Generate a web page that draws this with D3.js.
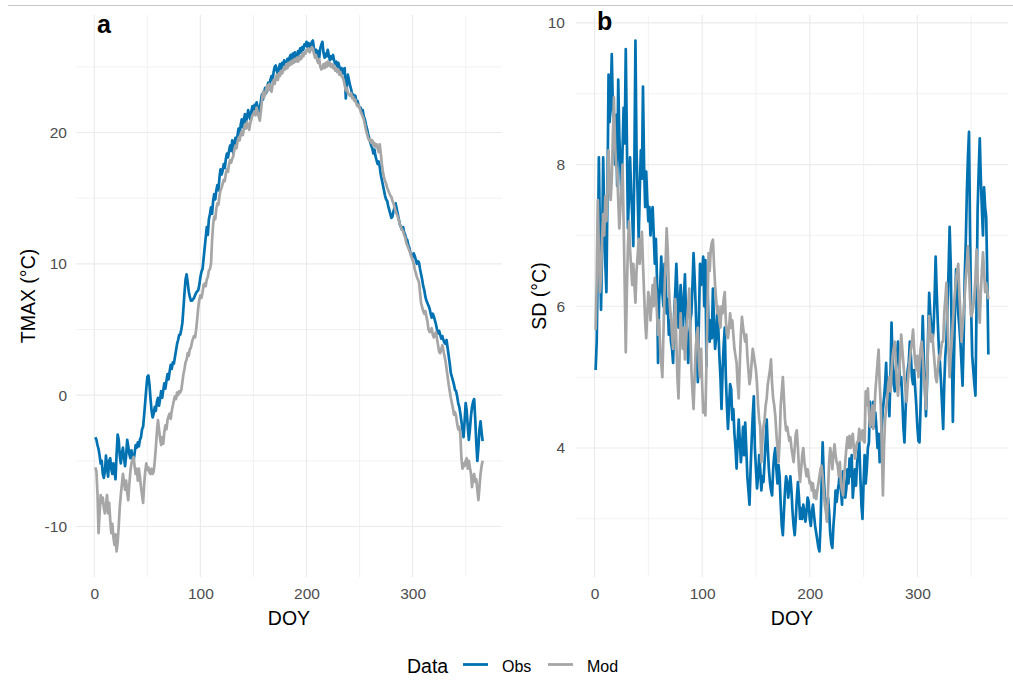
<!DOCTYPE html>
<html><head><meta charset="utf-8">
<script src="https://cdn.jsdelivr.net/npm/d3@7"></script>
<style>body{margin:0;background:#fff;} svg{display:block;} text{font-family:"Liberation Sans",Arial,sans-serif;}</style>
</head><body><svg id="chart" width="1013" height="689"></svg>
<script>
// ---- Data (daily values, DOY 1..366) ----
const obsTmax = [
-3.2,-3.4,-3.8,-4.1,-4.6,-5.2,-5.0,-6.0,-6.3,-5.8,
-4.6,-5.5,-6.2,-5.0,-4.8,-5.6,-6.0,-5.2,-5.8,-6.4,
-4.5,-3.0,-3.4,-4.6,-5.2,-4.4,-4.0,-4.8,-5.4,-4.6,
-3.4,-3.9,-4.5,-4.8,-4.2,-4.9,-5.0,-4.4,-3.8,-4.0,
-3.6,-3.9,-3.4,-3.2,-2.6,-2.4,-1.5,-0.5,0.5,1.4,
1.5,0.8,-0.3,-1.2,-1.7,-1.4,-0.9,-1.2,-0.5,-0.2,
-0.8,-0.3,0.3,-0.2,0.4,0.9,0.5,1.1,1.6,1.2,
1.8,2.3,2.0,2.5,2.4,2.9,3.4,3.9,4.2,4.6,
4.6,5.0,5.5,6.6,7.8,8.8,9.2,8.6,7.9,7.5,
7.2,7.2,7.3,7.4,7.6,7.8,7.9,8.0,8.4,9.0,
9.4,9.6,10.4,11.2,12.0,12.8,12.2,13.4,13.8,14.3,
13.8,14.8,15.3,14.9,15.6,16.0,15.6,16.6,17.2,16.8,
17.1,17.6,17.3,18.0,18.4,18.1,18.6,19.0,18.6,19.4,
18.4,19.0,19.6,19.2,19.8,20.3,19.9,20.6,21.0,20.4,
21.0,21.4,20.8,21.2,21.7,21.3,21.0,21.6,22.0,21.5,
22.1,21.8,22.3,21.9,21.6,21.8,22.4,22.9,22.5,23.0,
23.4,23.0,23.5,23.8,23.3,24.0,24.3,24.0,24.6,25.0,
25.1,24.7,24.4,24.9,25.2,24.8,25.3,25.0,25.5,25.2,
25.0,25.6,25.3,25.7,25.9,25.4,26.0,25.7,26.1,25.8,
25.6,26.2,26.0,26.4,26.1,26.5,26.3,26.7,26.6,26.9,
26.5,26.8,26.2,26.6,26.9,27.0,26.4,25.9,26.3,25.8,
26.2,25.7,26.4,26.7,26.9,26.1,25.7,26.0,25.8,26.3,
25.9,25.5,25.8,25.6,25.9,25.5,25.2,25.4,25.0,25.3,
25.0,24.6,24.9,24.5,24.8,24.9,22.6,23.5,24.4,24.0,
23.6,23.3,22.9,22.9,22.6,22.8,22.4,22.4,22.1,21.9,
21.9,21.6,21.7,21.2,21.0,20.6,20.3,19.9,19.6,19.3,
19.0,18.8,18.4,18.7,18.2,17.9,17.6,17.8,17.4,16.8,
16.4,16.0,15.6,15.2,14.9,14.8,14.4,14.1,13.8,13.5,
13.6,14.0,14.3,14.6,14.2,13.8,13.4,13.0,12.8,12.6,
12.8,12.4,12.2,11.9,11.8,11.4,11.2,10.8,10.6,10.5,
10.8,10.6,10.3,10.0,10.2,10.1,9.6,9.2,8.8,8.3,
8.0,7.5,7.2,7.0,6.8,6.6,6.2,5.9,6.2,6.0,
5.7,5.4,5.0,4.7,4.9,4.6,4.3,4.5,4.2,4.0,
3.9,4.2,3.6,3.0,2.4,1.7,1.4,1.1,0.8,0.4,
0.3,-0.1,-0.6,-0.9,-1.4,-2.0,-2.6,-3.2,-2.0,-0.6,
-1.2,-2.4,-3.4,-2.6,-1.6,-0.9,-0.5,-0.3,-1.8,-3.6,
-5.0,-4.0,-2.6,-2.0,-2.8,-3.5];

const modTmax = [
-5.5,-5.8,-7.5,-10.5,-9.0,-7.6,-8.2,-7.8,-8.6,-9.0,
-8.4,-7.6,-9.0,-8.2,-9.5,-10.5,-9.8,-10.8,-11.4,-10.6,
-11.9,-11.2,-10.0,-8.5,-7.6,-6.8,-6.0,-6.6,-7.2,-6.5,
-7.4,-8.0,-6.8,-5.8,-5.2,-4.9,-4.7,-5.4,-6.0,-5.6,
-6.5,-5.6,-6.2,-7.0,-7.6,-8.2,-6.8,-5.8,-5.2,-5.7,
-5.5,-5.9,-6.0,-5.6,-6.0,-5.8,-5.0,-4.0,-2.8,-1.9,
-2.6,-3.3,-3.8,-3.2,-3.7,-2.8,-2.3,-2.6,-1.9,-1.6,
-1.4,-1.8,-1.2,-0.8,-0.4,-0.1,-0.3,0.2,0.0,0.3,
0.2,0.4,1.0,1.6,2.0,2.5,2.7,3.2,3.0,3.5,
3.6,4.0,4.3,4.5,4.4,5.0,5.8,6.7,7.3,7.6,
7.4,7.8,8.4,8.5,8.3,8.8,9.0,9.5,9.6,10.0,
11.8,13.0,13.6,13.4,14.2,14.6,14.5,15.2,15.6,15.8,
16.1,16.4,16.3,16.9,17.2,17.0,17.6,17.9,17.7,18.0,
18.2,18.7,19.0,18.8,19.3,19.6,19.4,19.9,20.1,19.8,
20.3,20.6,20.3,20.8,20.5,20.2,20.7,21.0,21.3,21.4,
21.6,21.3,21.9,21.5,21.2,20.9,21.6,22.4,23.1,22.7,
22.9,23.3,23.6,23.2,23.7,23.4,23.1,23.6,24.0,23.7,
24.1,24.4,24.0,24.5,24.3,24.7,24.5,24.7,25.0,24.8,
25.2,24.9,25.3,25.1,25.4,25.2,25.5,25.3,25.6,25.4,
25.7,25.4,25.5,25.8,25.6,26.0,25.8,26.1,26.0,26.3,
26.2,26.4,26.1,26.3,26.5,26.4,26.0,25.7,25.9,25.5,
25.3,25.6,25.0,24.8,24.9,25.2,24.9,25.3,25.0,25.4,
25.1,25.3,25.0,25.2,24.9,25.1,24.7,24.9,24.6,24.8,
24.4,24.6,24.3,24.2,24.0,23.6,23.2,23.4,23.0,22.9,
22.8,23.0,22.6,22.7,22.4,22.5,22.2,22.0,22.1,21.9,
21.6,21.4,21.2,21.0,20.6,20.2,19.9,19.6,19.4,19.5,
19.2,19.4,19.0,19.2,18.9,19.1,18.8,18.5,19.1,18.4,
17.6,17.0,16.6,16.3,16.1,15.8,15.6,15.4,15.2,15.1,
14.8,14.6,14.3,14.0,13.8,13.6,13.3,13.0,12.8,12.6,
12.5,12.2,12.0,11.6,11.4,11.2,11.0,10.8,10.5,10.3,
10.0,9.6,9.3,9.0,8.8,8.6,7.8,7.0,6.7,6.4,
6.2,6.4,6.0,5.6,5.0,4.8,4.9,5.1,4.6,4.4,
4.6,4.8,4.3,3.8,3.3,3.2,3.5,3.8,3.4,3.0,
2.6,2.0,1.4,0.8,0.3,-0.2,-0.6,-1.0,-1.5,-1.3,
-1.6,-2.2,-2.6,-2.4,-3.0,-4.8,-5.6,-5.2,-5.4,-5.0,
-4.8,-5.6,-5.0,-5.5,-6.0,-7.0,-6.2,-6.0,-6.6,-6.4,
-7.2,-8.0,-7.0,-6.0,-5.4,-5.0];

const obsSd = [
5.1,5.5,6.6,8.1,7.0,5.95,6.8,8.1,7.3,6.6,
6.2,7.6,9.27,8.6,8.9,9.56,8.8,8.5,8.0,8.7,
7.7,9.2,8.4,8.0,7.5,8.2,8.8,8.3,9.63,8.4,
7.1,7.6,8.1,7.6,7.3,6.85,8.0,9.75,8.2,7.6,
6.95,7.6,8.2,7.8,9.1,8.0,7.4,7.9,7.5,7.2,
7.4,7.0,7.3,7.4,7.0,6.6,6.95,6.4,5.2,6.1,
6.3,6.7,6.2,6.0,6.6,6.4,5.9,6.1,5.6,5.8,
5.5,5.4,5.2,5.9,6.2,6.6,6.2,5.7,5.95,6.3,
6.0,5.6,6.1,6.45,5.9,5.6,5.2,5.5,5.8,5.9,
6.3,6.75,6.4,6.0,5.5,4.93,5.8,6.6,6.3,6.5,
6.7,6.0,6.65,5.16,6.3,5.7,5.5,5.8,5.55,6.25,
5.8,5.4,5.55,5.9,5.7,5.3,5.0,4.55,5.1,5.45,
5.7,5.0,4.6,4.27,4.6,4.9,4.83,4.4,4.55,4.2,
4.0,3.71,4.1,4.4,4.1,3.8,4.0,4.3,3.9,4.36,
4.0,3.6,3.4,3.2,3.7,4.1,4.45,4.73,4.0,3.7,
3.43,3.6,3.9,3.7,3.4,3.6,3.52,3.8,4.1,4.4,
4.0,3.7,3.52,3.4,3.33,3.7,3.9,4.0,3.7,3.5,
3.76,3.6,3.2,2.9,2.77,3.1,3.4,3.6,3.52,3.3,
3.45,3.6,3.4,3.1,2.9,2.77,3.0,3.3,3.52,3.3,
3.0,3.15,3.0,3.2,3.1,2.96,3.1,3.3,3.24,3.0,
2.9,3.1,3.2,3.05,2.9,2.8,2.7,2.6,2.54,2.9,
3.5,4.08,3.6,3.3,3.24,3.0,3.3,3.1,2.8,2.65,
2.59,2.9,3.1,3.4,3.24,3.4,3.5,3.67,3.4,3.2,
3.67,3.5,3.3,3.43,3.7,3.5,3.85,3.6,3.9,3.3,
3.5,3.7,3.47,3.8,3.9,4.08,3.6,3.2,3.0,3.5,
3.9,3.5,3.7,4.0,4.08,4.65,4.3,4.4,4.65,4.3,
4.5,4.27,4.0,4.2,3.8,4.1,4.3,4.55,4.7,4.9,
5.2,4.7,4.9,4.45,5.0,5.77,5.2,4.9,4.8,5.1,
5.3,5.5,5.2,4.9,5.0,4.7,4.3,4.08,4.5,4.9,
5.1,5.2,5.5,5.3,5.0,4.9,5.1,4.84,4.6,4.3,
4.1,4.08,4.6,5.2,5.86,5.3,4.9,4.45,4.9,5.6,
6.19,5.9,5.7,5.5,5.67,6.1,6.7,6.2,5.77,5.4,
5.2,4.93,4.6,4.27,4.9,5.3,5.5,6.0,6.5,7.12,
6.6,5.5,4.37,5.2,6.0,6.52,6.2,5.9,5.72,5.5,
5.2,4.88,5.5,6.4,6.9,7.6,8.1,8.46,7.0,5.95,
5.3,5.1,4.9,4.74,6.0,7.36,7.9,8.37,7.8,7.36,
7.0,7.68,7.4,7.26,6.4,5.32];

const modSd = [
5.67,6.4,7.5,6.8,6.2,6.4,6.95,7.3,7.0,7.55,
7.2,7.6,8.2,7.7,7.5,7.8,8.4,8.95,8.3,8.0,
7.9,7.5,7.1,7.4,7.7,8.0,7.2,6.3,5.35,6.2,
6.85,7.2,6.8,6.55,6.3,6.6,6.3,6.05,6.5,6.7,
6.95,6.6,6.8,7.05,6.6,6.2,5.8,5.55,5.9,6.2,
6.1,5.8,6.05,6.3,6.0,6.4,6.2,5.9,5.6,5.8,
5.4,5.2,5.0,5.6,6.2,6.6,7.1,6.8,6.3,6.0,
5.85,5.6,5.4,5.8,6.1,5.5,5.0,4.7,5.3,5.9,
5.6,5.4,5.7,5.25,5.5,5.8,6.0,6.25,5.7,5.1,
4.8,4.55,5.0,5.4,5.6,5.7,5.2,5.0,5.4,4.9,
4.5,4.6,4.46,5.2,6.0,6.75,6.5,6.8,6.9,6.94,
6.6,6.3,6.1,5.9,6.0,5.8,5.7,6.0,5.9,6.1,
6.2,5.8,5.6,5.55,5.7,5.9,5.7,5.8,5.6,5.4,
5.3,5.2,4.9,4.7,5.2,5.6,5.85,5.7,5.6,5.5,
5.6,5.3,5.1,4.9,5.0,5.2,5.4,5.3,5.2,5.1,
4.9,4.6,4.4,4.3,3.8,4.1,4.3,4.4,4.6,4.7,
4.9,5.0,5.1,5.25,4.9,4.7,4.6,4.45,4.2,4.0,
3.8,4.1,4.6,4.8,5.0,4.7,4.4,4.25,4.3,4.2,
4.1,4.15,4.0,3.9,3.8,4.0,4.2,4.25,4.0,3.7,
3.52,3.7,3.9,4.0,3.8,3.7,3.6,3.7,3.6,3.5,
3.52,3.4,3.5,3.3,3.4,3.28,3.4,3.5,3.6,3.7,
3.75,3.6,3.4,3.2,3.1,2.96,3.4,3.8,4.0,3.9,
3.7,3.9,4.05,3.9,3.8,3.75,3.6,3.8,3.5,3.4,
3.33,3.6,3.8,4.0,4.15,4.0,4.17,4.0,4.1,4.2,
4.0,3.85,4.0,4.08,4.1,4.27,4.1,4.2,4.25,4.1,
4.08,4.8,4.6,4.84,4.5,4.3,4.4,4.6,4.27,4.5,
4.8,5.0,5.2,5.39,4.9,4.6,4.0,3.33,4.0,4.4,
4.55,4.7,4.9,5.0,4.8,5.1,5.3,5.4,5.5,5.2,
4.9,4.74,5.0,5.3,5.6,5.4,5.2,5.0,4.8,4.65,
4.9,5.1,5.25,5.4,5.5,5.67,5.4,5.2,5.1,5.3,
5.0,5.2,5.4,5.5,5.3,5.0,4.8,4.55,5.0,5.5,
5.86,5.6,5.5,5.6,5.39,5.2,5.0,4.93,5.1,5.3,
5.25,5.4,5.5,5.5,5.9,6.1,6.33,5.8,5.4,5.0,
5.3,5.5,5.77,6.0,6.2,6.4,6.5,6.6,6.2,5.9,
5.5,5.7,5.9,6.14,6.4,6.6,6.85,6.5,6.1,5.86,
5.9,6.0,6.14,6.4,6.8,6.4,6.0,5.77,6.2,6.5,
6.76,6.5,6.2,6.33,6.2,6.1];

const xTicks = [0, 100, 200, 300];
const xMinor = [50, 150, 250, 350];
const tmaxTicks = [-10, 0, 10, 20];
const tmaxMinor = [-5, 5, 15, 25];
const sdTicks = [4, 6, 8, 10];
const sdMinor = [3, 5, 7, 9];
const seriesNames = ["Obs", "Mod"];
const seriesColors = ["#0072B2", "#A6A6A6"];

// ---- Drawing ----
const svg = d3.select("#chart");
svg.append("rect").attr("width", 1013).attr("height", 689).attr("fill", "#fff");
svg.append("line").attr("x1", 8).attr("x2", 1013).attr("y1", 5.5).attr("y2", 5.5)
  .attr("stroke", "#c6c6c6").attr("stroke-width", 1.2);

function expand(ext) { const r = ext[1] - ext[0]; return [ext[0] - 0.05 * r, ext[1] + 0.05 * r]; }
const plainFmt = d => String(d);

function panel(o) {
  const g = svg.append("g");
  const days = o.obs.map((d, i) => i + 1);
  const x = d3.scaleLinear().domain(expand([1, o.obs.length])).range([o.left, o.right]);
  const allV = o.obs.concat(o.mod);
  const y = d3.scaleLinear().domain(expand(d3.extent(allV))).range([o.bottom, o.top]);

  // grid
  g.selectAll(".vmin").data(xMinor).join("line")
    .attr("x1", d => x(d)).attr("x2", d => x(d)).attr("y1", o.top).attr("y2", o.bottom)
    .attr("stroke", "#f0f0f0").attr("stroke-width", 0.9);
  g.selectAll(".hmin").data(o.yMinor).join("line")
    .attr("y1", d => y(d)).attr("y2", d => y(d)).attr("x1", o.left).attr("x2", o.right)
    .attr("stroke", "#f0f0f0").attr("stroke-width", 0.9);
  g.selectAll(".vmaj").data(xTicks).join("line")
    .attr("x1", d => x(d)).attr("x2", d => x(d)).attr("y1", o.top).attr("y2", o.bottom)
    .attr("stroke", "#ebebeb").attr("stroke-width", 1.2);
  g.selectAll(".hmaj").data(o.yTicks).join("line")
    .attr("y1", d => y(d)).attr("y2", d => y(d)).attr("x1", o.left).attr("x2", o.right)
    .attr("stroke", "#ebebeb").attr("stroke-width", 1.2);

  // axes
  const xa = g.append("g").attr("transform", `translate(0,${o.bottom})`)
    .call(d3.axisBottom(x).tickValues(xTicks).tickFormat(plainFmt).tickSize(0).tickPadding(11));
  const ya = g.append("g").attr("transform", `translate(${o.left},0)`)
    .call(d3.axisLeft(y).tickValues(o.yTicks).tickFormat(plainFmt).tickSize(0).tickPadding(o.yPad));
  [xa, ya].forEach(a => {
    a.select(".domain").remove();
    a.selectAll("text").attr("fill", "#4d4d4d").style("font-size", "15.5px")
      .style("font-family", '"Liberation Sans", Arial, sans-serif');
  });

  // lines
  const series = [o.obs, o.mod];
  series.forEach((vals, si) => {
    const line = d3.line().x((d, i) => x(days[i])).y(d => y(d));
    g.append("path").datum(vals).attr("d", line)
      .attr("fill", "none").attr("stroke", seriesColors[si])
      .attr("stroke-width", 2.7).attr("stroke-linejoin", "round").attr("stroke-linecap", "butt");
  });

  // titles
  g.append("text").attr("x", (o.left + o.right) / 2).attr("y", 625)
    .attr("text-anchor", "middle").style("font-size", "19.5px").attr("fill", "#000").text("DOY");
  g.append("text").attr("transform", `translate(${o.titleX},${(o.top + o.bottom) / 2}) rotate(-90)`)
    .attr("text-anchor", "middle").attr("dy", "0.35em").style("font-size", "19.5px").attr("fill", "#000").text(o.yTitle);
  g.append("text").attr("x", o.labelX).attr("y", o.labelY)
    .style("font-size", "25px").style("font-weight", "bold").attr("fill", "#000").text(o.label);
}

panel({ left: 76, right: 502, top: 15, bottom: 577, obs: obsTmax, mod: modTmax,
  yTicks: tmaxTicks, yMinor: tmaxMinor, yTitle: "TMAX (°C)", titleX: 28, yPad: 9,
  label: "a", labelX: 97, labelY: 33 });
panel({ left: 576, right: 1008, top: 15, bottom: 577, obs: obsSd, mod: modSd,
  yTicks: sdTicks, yMinor: sdMinor, yTitle: "SD (°C)", titleX: 539, yPad: 11,
  label: "b", labelX: 597, labelY: 30 });

// legend
const lg = svg.append("g");
lg.append("text").attr("x", 407).attr("y", 672.5).style("font-size", "19.5px").attr("fill", "#000").text("Data");
const items = [{ x1: 463, tx: 502 }, { x1: 548, tx: 587 }];
items.forEach((it, i) => {
  lg.append("line").attr("x1", it.x1).attr("x2", it.x1 + 25).attr("y1", 664.5).attr("y2", 664.5)
    .attr("stroke", seriesColors[i]).attr("stroke-width", 2.8);
  lg.append("text").attr("x", it.tx).attr("y", 671.5).style("font-size", "16px").attr("fill", "#000").text(seriesNames[i]);
});
</script></body></html>
